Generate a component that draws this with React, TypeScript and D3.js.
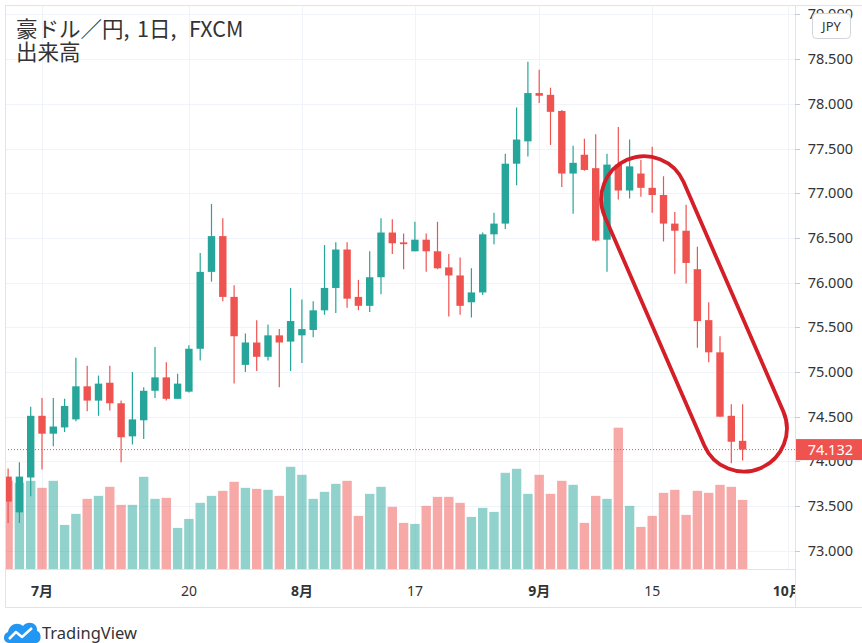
import * as d3 from 'd3';
import { useLayoutEffect, useRef } from 'react';

// AUD/JPY daily, FXCM, 2020-06-26 .. 2020-09-25 (weekdays)
const opens = [
  73.83, 73.43, 73.82, 74.51, 74.31, 74.38, 74.47, 74.84, 74.68, 74.88,
  74.65, 74.28, 74.46, 74.79, 74.94, 74.7, 74.78, 75.26, 76.12, 76.52,
  75.84, 75.08, 75.33, 75.17, 75.41, 75.34, 75.41, 75.47, 75.69, 75.94,
  76.37, 75.84, 75.74, 76.06, 76.56, 76.45, 76.35, 76.48, 76.35, 76.17,
  76.08, 75.78, 75.89, 76.54, 76.66, 77.33, 77.58, 78.12, 78.1, 77.92,
  77.22, 77.43, 77.28, 76.48, 77.32, 77.03, 77.22, 77.06, 76.98, 76.66,
  76.58, 76.15, 75.58, 75.22, 74.51, 74.23,
];
const highs = [
  73.92, 73.99, 74.61, 74.71, 74.71, 74.7, 75.16, 75.07, 74.96, 75.07,
  74.68, 75.0, 74.83, 75.28, 75.11, 74.98, 75.3, 76.33, 76.88, 76.72,
  75.97, 75.43, 75.58, 75.53, 75.48, 75.94, 75.81, 75.79, 76.42, 76.45,
  76.45, 76.03, 76.35, 76.72, 76.71, 76.55, 76.68, 76.55, 76.68, 76.32,
  76.28, 76.16, 76.56, 76.78, 77.44, 77.96, 78.47, 78.38, 78.18, 77.93,
  77.53, 77.61, 77.66, 77.44, 77.74, 77.6, 77.37, 77.52, 77.19, 76.79,
  76.87, 76.4, 75.78, 75.4, 74.64, 74.64,
];
const lows = [
  73.31, 73.31, 73.61, 73.91, 74.17, 74.33, 74.45, 74.56, 74.51, 74.57,
  73.99, 74.19, 74.25, 74.71, 74.68, 74.7, 74.77, 75.13, 76.01, 75.79,
  74.87, 75.0, 75.01, 75.13, 74.83, 75.01, 75.1, 75.39, 75.64, 75.66,
  75.72, 75.69, 75.67, 75.87, 76.32, 76.15, 76.35, 76.12, 76.15, 75.62,
  75.64, 75.61, 75.86, 76.43, 76.6, 77.09, 77.41, 78.01, 77.54, 77.07,
  76.77, 77.25, 76.46, 76.12, 76.93, 76.94, 76.96, 76.78, 76.46, 76.1,
  75.99, 75.27, 75.11, 74.5, 73.98, 74.01,
];
const closes = [
  73.55, 73.83, 74.51, 74.31, 74.39, 74.62, 74.84, 74.68, 74.87, 74.65,
  74.27, 74.47, 74.79, 74.94, 74.7, 74.87, 75.26, 76.12, 76.52, 75.84,
  75.4, 75.33, 75.17, 75.41, 75.33, 75.57, 75.48, 75.69, 75.94, 76.37,
  75.82, 75.74, 76.06, 76.56, 76.44, 76.43, 76.48, 76.35, 76.16, 76.08,
  75.74, 75.89, 76.54, 76.66, 77.33, 77.6, 78.12, 78.09, 77.91, 77.22,
  77.34, 77.26, 76.47, 77.32, 77.03, 77.3, 77.06, 76.98, 76.66, 76.58,
  76.22, 75.57, 75.22, 74.5, 74.22, 74.132,
];
const volumes = [
  88, 86, 88, 81, 88, 44, 55, 70, 73, 82,
  64, 64, 92, 70, 71, 41, 50, 66, 73, 78,
  87, 81, 80, 79, 73, 102, 94, 70, 77, 85,
  88, 53, 75, 82, 62, 46, 45, 63, 72, 72,
  66, 52, 61, 57, 96, 100, 75, 94, 75, 88,
  84, 46, 73, 70, 141, 63, 42, 53, 76, 79,
  54, 78, 76, 84, 82, 69,
];

const priceTicks = [73, 73.5, 74, 74.5, 75, 75.5, 76, 76.5, 77, 77.5, 78, 78.5, 79];
const timeTicks = [
  { date: '2020-07-01', label: '7月', month: true },
  { date: '2020-07-20', label: '20', month: false },
  { date: '2020-08-03', label: '8月', month: true },
  { date: '2020-08-17', label: '17', month: false },
  { date: '2020-09-01', label: '9月', month: true },
  { date: '2020-09-15', label: '15', month: false },
  { date: '2020-10-01', label: '10月', month: true },
];
const lastPrice = 74.132;

const W = 862;
const H = 643;
const plot = { left: 5, right: 795, top: 5, bottom: 569, axisBottom: 607 };

const UP = '#26a69a';
const DOWN = '#ef5350';
const GRID = '#f0f3fa';
const BORDER = '#e0e3eb';
const TEXT = '#333333';
const NUM_FONT = '"Noto Sans", "Noto Sans CJK JP", sans-serif';
const CJK_FONT = '"Noto Sans CJK JP", "Noto Sans", sans-serif';

const fmtDate = d3.timeFormat('%Y-%m-%d');
const calendar = d3
  .timeDay.range(new Date(2020, 5, 26), new Date(2020, 9, 3))
  .filter((d) => d.getDay() !== 0 && d.getDay() !== 6)
  .map(fmtDate);

const candles = opens.map((o, i) => ({
  date: calendar[i],
  index: i,
  open: o,
  high: highs[i],
  low: lows[i],
  close: closes[i],
  volume: volumes[i],
}));

export default function App() {
  const container = useRef<HTMLDivElement>(null);

  useLayoutEffect(() => {
    if (!container.current) return;
    const parent = d3.select(container.current);
    parent.select('svg').remove();

    const svg = parent
      .append('svg')
      .attr('width', W)
      .attr('height', H)
      .style('display', 'block');

    svg.append('rect').attr('width', W).attr('height', H).attr('fill', '#fff');

    const x = d3.scaleLinear().domain([0, candles.length - 1]).range([8.1, 742.6]);
    const y = d3.scaleLinear().domain([74, 79]).range([461.4, 14.4]);
    const yVol = d3
      .scaleLinear()
      .domain([0, d3.max(volumes) ?? 1])
      .range([plot.bottom, 427.7]);
    const tickX = (date: string) => x(calendar.indexOf(date));

    const defs = svg.append('defs');
    defs
      .append('clipPath')
      .attr('id', 'plot-clip')
      .append('rect')
      .attr('x', plot.left)
      .attr('y', plot.top)
      .attr('width', plot.right - plot.left)
      .attr('height', plot.bottom - plot.top);
    defs
      .append('clipPath')
      .attr('id', 'time-clip')
      .append('rect')
      .attr('x', plot.left)
      .attr('y', plot.bottom)
      .attr('width', plot.right - plot.left)
      .attr('height', plot.axisBottom - plot.bottom);

    // grid
    const grid = svg.append('g').attr('clip-path', 'url(#plot-clip)');
    grid
      .selectAll('line.h')
      .data(priceTicks)
      .join('line')
      .attr('x1', plot.left)
      .attr('x2', plot.right)
      .attr('y1', (d) => Math.round(y(d)) + 0.5)
      .attr('y2', (d) => Math.round(y(d)) + 0.5)
      .attr('stroke', GRID);
    grid
      .selectAll('line.v')
      .data(timeTicks)
      .join('line')
      .attr('x1', (d) => Math.round(tickX(d.date)) + 0.5)
      .attr('x2', (d) => Math.round(tickX(d.date)) + 0.5)
      .attr('y1', plot.top)
      .attr('y2', plot.bottom)
      .attr('stroke', GRID);

    const chart = svg.append('g').attr('clip-path', 'url(#plot-clip)');

    // volume
    const volW = 9.4;
    chart
      .selectAll('rect.vol')
      .data(candles)
      .join('rect')
      .attr('x', (d) => x(d.index) - volW / 2)
      .attr('width', volW)
      .attr('y', (d) => yVol(d.volume))
      .attr('height', (d) => plot.bottom - yVol(d.volume))
      .attr('fill', (d) => (d.close >= d.open ? UP : DOWN))
      .attr('fill-opacity', 0.5);

    // candles
    const bodyW = 7.4;
    chart
      .selectAll('line.wick')
      .data(candles)
      .join('line')
      .attr('x1', (d) => x(d.index))
      .attr('x2', (d) => x(d.index))
      .attr('y1', (d) => y(d.high))
      .attr('y2', (d) => y(d.low))
      .attr('stroke', (d) => (d.close >= d.open ? UP : DOWN))
      .attr('stroke-width', 1.2);
    chart
      .selectAll('rect.body')
      .data(candles)
      .join('rect')
      .attr('x', (d) => x(d.index) - bodyW / 2)
      .attr('width', bodyW)
      .attr('y', (d) => y(Math.max(d.open, d.close)))
      .attr('height', (d) => Math.max(1.5, Math.abs(y(d.open) - y(d.close))))
      .attr('fill', (d) => (d.close >= d.open ? UP : DOWN));

    // last price line
    chart
      .append('line')
      .attr('x1', plot.left)
      .attr('x2', plot.right)
      .attr('y1', y(lastPrice))
      .attr('y2', y(lastPrice))
      .attr('stroke', DOWN)
      .attr('stroke-width', 1)
      .attr('stroke-dasharray', '1,2');

    // hand-drawn loop round the September drop (a rotated capsule)
    const annotation = { index: 60.7, price: 75.65, length: 336, width: 86, angle: 66.5 };
    svg
      .append('rect')
      .attr('x', -annotation.length / 2)
      .attr('y', -annotation.width / 2)
      .attr('width', annotation.length)
      .attr('height', annotation.width)
      .attr('rx', annotation.width / 2)
      .attr('ry', annotation.width / 2)
      .attr(
        'transform',
        `translate(${x(annotation.index)},${y(annotation.price)}) rotate(${annotation.angle})`,
      )
      .attr('fill', 'none')
      .attr('stroke', '#d41f28')
      .attr('stroke-width', 3.8);

    // frame
    const frame = svg.append('g').attr('stroke', BORDER).attr('fill', 'none');
    frame.append('line').attr('x1', plot.left).attr('x2', W).attr('y1', plot.top + 0.5).attr('y2', plot.top + 0.5);
    frame.append('line').attr('x1', plot.left + 0.5).attr('x2', plot.left + 0.5).attr('y1', plot.top).attr('y2', plot.axisBottom);
    frame.append('line').attr('x1', plot.right + 0.5).attr('x2', plot.right + 0.5).attr('y1', plot.top).attr('y2', plot.axisBottom);
    frame.append('line').attr('x1', plot.left).attr('x2', plot.right).attr('y1', plot.bottom + 0.5).attr('y2', plot.bottom + 0.5);
    frame.append('line').attr('x1', plot.left).attr('x2', W).attr('y1', plot.axisBottom + 0.5).attr('y2', plot.axisBottom + 0.5);

    // time axis
    svg
      .append('g')
      .attr('clip-path', 'url(#time-clip)')
      .selectAll('text')
      .data(timeTicks)
      .join('text')
      .attr('x', (d) => tickX(d.date))
      .attr('y', 596)
      .attr('text-anchor', 'middle')
      .attr('font-family', NUM_FONT)
      .attr('font-size', 14)
      .attr('font-weight', (d) => (d.month ? 700 : 400))
      .attr('fill', TEXT)
      .text((d) => d.label);

    // price axis
    const priceAxis = svg.append('g');
    priceAxis
      .selectAll('line')
      .data(priceTicks)
      .join('line')
      .attr('x1', plot.right)
      .attr('x2', plot.right + 5)
      .attr('y1', (d) => Math.round(y(d)) + 0.5)
      .attr('y2', (d) => Math.round(y(d)) + 0.5)
      .attr('stroke', '#c8cbd3');
    priceAxis
      .selectAll('text')
      .data(priceTicks)
      .join('text')
      .attr('x', 853)
      .attr('y', (d) => y(d) + 5)
      .attr('text-anchor', 'end')
      .attr('font-family', NUM_FONT)
      .attr('font-size', 14.5)
      .attr('fill', TEXT)
      .text((d) => d3.format('.3f')(d));

    // currency badge
    const badge = svg.append('g');
    badge
      .append('rect')
      .attr('x', 812.5)
      .attr('y', 13.5)
      .attr('width', 38)
      .attr('height', 25)
      .attr('rx', 4)
      .attr('fill', '#fff')
      .attr('stroke', '#d1d4dc');
    badge
      .append('text')
      .attr('x', 831.5)
      .attr('y', 31)
      .attr('text-anchor', 'middle')
      .attr('font-family', NUM_FONT)
      .attr('font-size', 13)
      .attr('fill', TEXT)
      .text('JPY');

    // last price label
    svg
      .append('rect')
      .attr('x', plot.right + 1)
      .attr('y', y(lastPrice) - 10.5)
      .attr('width', W - plot.right - 1)
      .attr('height', 21)
      .attr('fill', DOWN);
    svg
      .append('text')
      .attr('x', 853)
      .attr('y', y(lastPrice) + 5)
      .attr('text-anchor', 'end')
      .attr('font-family', NUM_FONT)
      .attr('font-size', 14.5)
      .attr('fill', '#fff')
      .text(d3.format('.3f')(lastPrice));

    // legend
    const legend = svg
      .append('g')
      .attr('font-family', CJK_FONT)
      .attr('font-size', 21.5)
      .attr('fill', TEXT);
    const title = legend.append('text').attr('y', 36.5);
    title.append('tspan').attr('x', 16).text('豪ドル／円,');
    title.append('tspan').attr('x', 137).text('1日,');
    title.append('tspan').attr('x', 189).text('FXCM');
    legend.append('text').attr('x', 16).attr('y', 59.5).text('出来高');

    // TradingView logo
    const logo = svg.append('g');
    logo
      .append('path')
      .attr(
        'd',
        'M9 643 C3 643 2 634 8 632 C9 625 17 621 23 626 C28 620 38 623 37 631 C42 632 42 643 36 643 Z',
      )
      .attr('fill', '#2196f3');
    logo
      .append('path')
      .attr('d', 'M9 639 L16 632 L22 637 L32 628')
      .attr('fill', 'none')
      .attr('stroke', '#fff')
      .attr('stroke-width', 2.5)
      .attr('stroke-linejoin', 'round');
    logo
      .append('text')
      .attr('x', 42)
      .attr('y', 639)
      .attr('font-family', NUM_FONT)
      .attr('font-size', 16.5)
      .attr('fill', TEXT)
      .text('TradingView');
  }, []);

  return (
    <div
      ref={container}
      style={{ position: 'absolute', left: 0, top: 0, width: W, height: H }}
    ></div>
  );
}
